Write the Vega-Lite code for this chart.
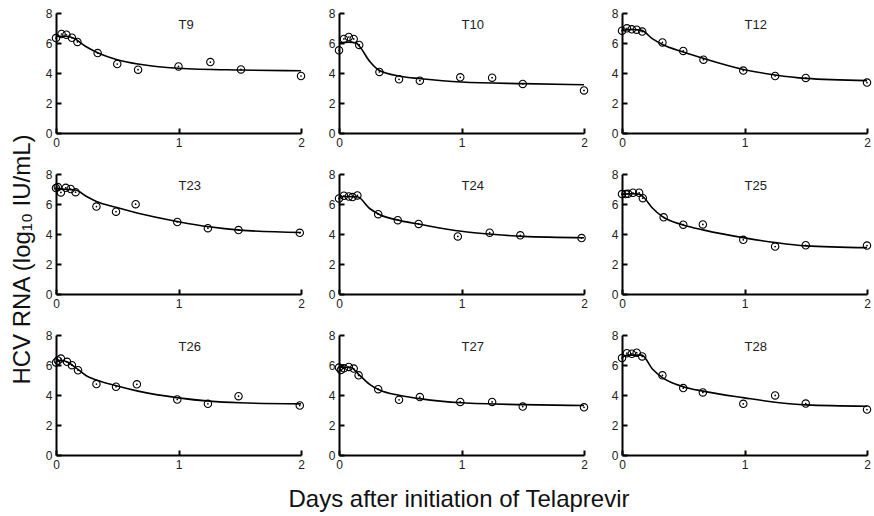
{
  "$schema": "https://vega.github.io/schema/vega-lite/v6.json",
  "background": "white",
  "padding": {"left": 11, "top": 7, "right": 0, "bottom": 5},
  "config": {
    "view": {"stroke": null},
    "font": "Liberation Sans",
    "facet": {"spacing": {"column": 21, "row": 20}},
    "axis": {
      "grid": false,
      "domainColor": "black",
      "domainWidth": 2,
      "ticks": true,
      "tickColor": "black",
      "tickWidth": 2,
      "tickSize": -5,
      "labelPadding": 9,
      "labelFontSize": 12,
      "labelColor": "#222",
      "labelFont": "Liberation Sans",
      "labelOverlap": false,
      "labelFlush": false,
      "title": null
    }
  },
  "title": {
    "text": "HCV RNA (log₁₀ IU/mL)",
    "orient": "left",
    "anchor": "middle",
    "fontSize": 24,
    "fontWeight": "normal",
    "font": "Liberation Sans",
    "color": "#111",
    "offset": 10
  },
  "data": {
    "values": [
      {"id": "T9", "kind": "obs", "t": 0.0, "v": 6.33},
      {"id": "T9", "kind": "obs", "t": 0.045, "v": 6.6},
      {"id": "T9", "kind": "obs", "t": 0.085, "v": 6.55},
      {"id": "T9", "kind": "obs", "t": 0.13, "v": 6.35},
      {"id": "T9", "kind": "obs", "t": 0.175, "v": 6.07},
      {"id": "T9", "kind": "obs", "t": 0.34, "v": 5.33},
      {"id": "T9", "kind": "obs", "t": 0.5, "v": 4.6},
      {"id": "T9", "kind": "obs", "t": 0.67, "v": 4.22},
      {"id": "T9", "kind": "obs", "t": 1.0, "v": 4.44},
      {"id": "T9", "kind": "obs", "t": 1.26, "v": 4.73},
      {"id": "T9", "kind": "obs", "t": 1.51, "v": 4.24},
      {"id": "T9", "kind": "obs", "t": 2.0, "v": 3.8},
      {"id": "T9", "kind": "fit", "t": 0.0, "v": 6.44},
      {"id": "T9", "kind": "fit", "t": 0.08, "v": 6.45},
      {"id": "T9", "kind": "fit", "t": 0.15, "v": 6.3},
      {"id": "T9", "kind": "fit", "t": 0.24, "v": 5.78},
      {"id": "T9", "kind": "fit", "t": 0.34, "v": 5.35},
      {"id": "T9", "kind": "fit", "t": 0.5, "v": 4.89},
      {"id": "T9", "kind": "fit", "t": 0.67, "v": 4.6},
      {"id": "T9", "kind": "fit", "t": 1.0, "v": 4.32},
      {"id": "T9", "kind": "fit", "t": 1.5, "v": 4.2},
      {"id": "T9", "kind": "fit", "t": 2.0, "v": 4.15},

      {"id": "T10", "kind": "obs", "t": 0.0, "v": 5.51},
      {"id": "T10", "kind": "obs", "t": 0.04, "v": 6.27},
      {"id": "T10", "kind": "obs", "t": 0.08, "v": 6.4},
      {"id": "T10", "kind": "obs", "t": 0.12, "v": 6.27},
      {"id": "T10", "kind": "obs", "t": 0.165, "v": 5.87},
      {"id": "T10", "kind": "obs", "t": 0.33, "v": 4.07},
      {"id": "T10", "kind": "obs", "t": 0.49, "v": 3.58},
      {"id": "T10", "kind": "obs", "t": 0.66, "v": 3.49},
      {"id": "T10", "kind": "obs", "t": 0.99, "v": 3.71},
      {"id": "T10", "kind": "obs", "t": 1.25, "v": 3.69},
      {"id": "T10", "kind": "obs", "t": 1.5, "v": 3.27},
      {"id": "T10", "kind": "obs", "t": 2.0, "v": 2.84},
      {"id": "T10", "kind": "fit", "t": 0.0, "v": 6.0},
      {"id": "T10", "kind": "fit", "t": 0.08, "v": 6.06},
      {"id": "T10", "kind": "fit", "t": 0.14, "v": 6.0},
      {"id": "T10", "kind": "fit", "t": 0.17, "v": 5.75},
      {"id": "T10", "kind": "fit", "t": 0.25, "v": 4.78},
      {"id": "T10", "kind": "fit", "t": 0.32, "v": 4.22},
      {"id": "T10", "kind": "fit", "t": 0.5, "v": 3.78},
      {"id": "T10", "kind": "fit", "t": 0.67, "v": 3.62},
      {"id": "T10", "kind": "fit", "t": 1.0, "v": 3.4},
      {"id": "T10", "kind": "fit", "t": 1.5, "v": 3.29},
      {"id": "T10", "kind": "fit", "t": 2.0, "v": 3.22},

      {"id": "T12", "kind": "obs", "t": 0.0, "v": 6.82},
      {"id": "T12", "kind": "obs", "t": 0.04, "v": 6.98},
      {"id": "T12", "kind": "obs", "t": 0.08, "v": 6.91},
      {"id": "T12", "kind": "obs", "t": 0.12, "v": 6.89},
      {"id": "T12", "kind": "obs", "t": 0.165, "v": 6.76},
      {"id": "T12", "kind": "obs", "t": 0.33, "v": 6.04},
      {"id": "T12", "kind": "obs", "t": 0.5, "v": 5.47},
      {"id": "T12", "kind": "obs", "t": 0.665, "v": 4.89},
      {"id": "T12", "kind": "obs", "t": 0.99, "v": 4.16},
      {"id": "T12", "kind": "obs", "t": 1.25, "v": 3.8},
      {"id": "T12", "kind": "obs", "t": 1.5, "v": 3.67},
      {"id": "T12", "kind": "obs", "t": 2.0, "v": 3.36},
      {"id": "T12", "kind": "fit", "t": 0.0, "v": 6.84},
      {"id": "T12", "kind": "fit", "t": 0.08, "v": 6.9},
      {"id": "T12", "kind": "fit", "t": 0.16, "v": 6.84},
      {"id": "T12", "kind": "fit", "t": 0.25, "v": 6.27},
      {"id": "T12", "kind": "fit", "t": 0.33, "v": 5.9},
      {"id": "T12", "kind": "fit", "t": 0.5, "v": 5.4},
      {"id": "T12", "kind": "fit", "t": 0.67, "v": 4.96},
      {"id": "T12", "kind": "fit", "t": 1.0, "v": 4.22},
      {"id": "T12", "kind": "fit", "t": 1.25, "v": 3.87},
      {"id": "T12", "kind": "fit", "t": 1.5, "v": 3.64},
      {"id": "T12", "kind": "fit", "t": 2.0, "v": 3.49},

      {"id": "T23", "kind": "obs", "t": 0.0, "v": 7.06},
      {"id": "T23", "kind": "obs", "t": 0.015, "v": 7.13},
      {"id": "T23", "kind": "obs", "t": 0.04, "v": 6.77},
      {"id": "T23", "kind": "obs", "t": 0.08, "v": 7.08},
      {"id": "T23", "kind": "obs", "t": 0.12, "v": 7.0},
      {"id": "T23", "kind": "obs", "t": 0.16, "v": 6.79},
      {"id": "T23", "kind": "obs", "t": 0.33, "v": 5.83},
      {"id": "T23", "kind": "obs", "t": 0.49, "v": 5.49},
      {"id": "T23", "kind": "obs", "t": 0.65, "v": 5.99},
      {"id": "T23", "kind": "obs", "t": 0.99, "v": 4.8},
      {"id": "T23", "kind": "obs", "t": 1.24, "v": 4.39},
      {"id": "T23", "kind": "obs", "t": 1.49, "v": 4.26},
      {"id": "T23", "kind": "obs", "t": 1.99, "v": 4.08},
      {"id": "T23", "kind": "fit", "t": 0.0, "v": 7.02},
      {"id": "T23", "kind": "fit", "t": 0.08, "v": 6.98},
      {"id": "T23", "kind": "fit", "t": 0.16, "v": 6.93},
      {"id": "T23", "kind": "fit", "t": 0.25, "v": 6.5},
      {"id": "T23", "kind": "fit", "t": 0.33, "v": 6.17},
      {"id": "T23", "kind": "fit", "t": 0.5, "v": 5.76},
      {"id": "T23", "kind": "fit", "t": 0.67, "v": 5.38},
      {"id": "T23", "kind": "fit", "t": 1.0, "v": 4.82},
      {"id": "T23", "kind": "fit", "t": 1.25, "v": 4.48},
      {"id": "T23", "kind": "fit", "t": 1.5, "v": 4.26},
      {"id": "T23", "kind": "fit", "t": 2.0, "v": 4.1},

      {"id": "T24", "kind": "obs", "t": 0.0, "v": 6.37},
      {"id": "T24", "kind": "obs", "t": 0.04, "v": 6.55},
      {"id": "T24", "kind": "obs", "t": 0.08, "v": 6.5},
      {"id": "T24", "kind": "obs", "t": 0.11, "v": 6.46},
      {"id": "T24", "kind": "obs", "t": 0.15, "v": 6.57},
      {"id": "T24", "kind": "obs", "t": 0.32, "v": 5.32},
      {"id": "T24", "kind": "obs", "t": 0.48, "v": 4.92},
      {"id": "T24", "kind": "obs", "t": 0.65, "v": 4.67},
      {"id": "T24", "kind": "obs", "t": 0.97, "v": 3.84},
      {"id": "T24", "kind": "obs", "t": 1.23, "v": 4.09},
      {"id": "T24", "kind": "obs", "t": 1.48, "v": 3.91},
      {"id": "T24", "kind": "obs", "t": 1.98, "v": 3.73},
      {"id": "T24", "kind": "fit", "t": 0.0, "v": 6.41},
      {"id": "T24", "kind": "fit", "t": 0.04, "v": 6.5},
      {"id": "T24", "kind": "fit", "t": 0.15, "v": 6.48},
      {"id": "T24", "kind": "fit", "t": 0.25, "v": 5.7},
      {"id": "T24", "kind": "fit", "t": 0.33, "v": 5.3},
      {"id": "T24", "kind": "fit", "t": 0.5, "v": 4.89},
      {"id": "T24", "kind": "fit", "t": 0.67, "v": 4.63},
      {"id": "T24", "kind": "fit", "t": 1.0, "v": 4.18},
      {"id": "T24", "kind": "fit", "t": 1.25, "v": 3.98},
      {"id": "T24", "kind": "fit", "t": 1.5, "v": 3.84},
      {"id": "T24", "kind": "fit", "t": 2.0, "v": 3.75},

      {"id": "T25", "kind": "obs", "t": 0.0, "v": 6.66},
      {"id": "T25", "kind": "obs", "t": 0.03, "v": 6.66},
      {"id": "T25", "kind": "obs", "t": 0.05, "v": 6.68},
      {"id": "T25", "kind": "obs", "t": 0.09, "v": 6.75},
      {"id": "T25", "kind": "obs", "t": 0.14, "v": 6.75},
      {"id": "T25", "kind": "obs", "t": 0.17, "v": 6.39},
      {"id": "T25", "kind": "obs", "t": 0.34, "v": 5.11},
      {"id": "T25", "kind": "obs", "t": 0.5, "v": 4.62},
      {"id": "T25", "kind": "obs", "t": 0.66, "v": 4.64},
      {"id": "T25", "kind": "obs", "t": 0.99, "v": 3.61},
      {"id": "T25", "kind": "obs", "t": 1.25, "v": 3.16},
      {"id": "T25", "kind": "obs", "t": 1.5, "v": 3.25},
      {"id": "T25", "kind": "obs", "t": 2.0, "v": 3.23},
      {"id": "T25", "kind": "fit", "t": 0.0, "v": 6.66},
      {"id": "T25", "kind": "fit", "t": 0.08, "v": 6.68},
      {"id": "T25", "kind": "fit", "t": 0.14, "v": 6.66},
      {"id": "T25", "kind": "fit", "t": 0.17, "v": 6.5},
      {"id": "T25", "kind": "fit", "t": 0.25, "v": 5.72},
      {"id": "T25", "kind": "fit", "t": 0.33, "v": 5.16},
      {"id": "T25", "kind": "fit", "t": 0.5, "v": 4.6},
      {"id": "T25", "kind": "fit", "t": 0.67, "v": 4.26},
      {"id": "T25", "kind": "fit", "t": 1.0, "v": 3.74},
      {"id": "T25", "kind": "fit", "t": 1.25, "v": 3.43},
      {"id": "T25", "kind": "fit", "t": 1.5, "v": 3.21},
      {"id": "T25", "kind": "fit", "t": 2.0, "v": 3.09},

      {"id": "T26", "kind": "obs", "t": 0.0, "v": 6.17},
      {"id": "T26", "kind": "obs", "t": 0.015, "v": 6.3},
      {"id": "T26", "kind": "obs", "t": 0.04, "v": 6.43},
      {"id": "T26", "kind": "obs", "t": 0.09, "v": 6.21},
      {"id": "T26", "kind": "obs", "t": 0.13, "v": 5.99},
      {"id": "T26", "kind": "obs", "t": 0.18, "v": 5.65},
      {"id": "T26", "kind": "obs", "t": 0.33, "v": 4.73},
      {"id": "T26", "kind": "obs", "t": 0.49, "v": 4.55},
      {"id": "T26", "kind": "obs", "t": 0.66, "v": 4.71},
      {"id": "T26", "kind": "obs", "t": 0.99, "v": 3.7},
      {"id": "T26", "kind": "obs", "t": 1.24, "v": 3.41},
      {"id": "T26", "kind": "obs", "t": 1.49, "v": 3.92},
      {"id": "T26", "kind": "obs", "t": 1.99, "v": 3.3},
      {"id": "T26", "kind": "fit", "t": 0.0, "v": 6.17},
      {"id": "T26", "kind": "fit", "t": 0.04, "v": 6.32},
      {"id": "T26", "kind": "fit", "t": 0.1, "v": 6.17},
      {"id": "T26", "kind": "fit", "t": 0.16, "v": 5.83},
      {"id": "T26", "kind": "fit", "t": 0.25, "v": 5.27},
      {"id": "T26", "kind": "fit", "t": 0.33, "v": 5.0},
      {"id": "T26", "kind": "fit", "t": 0.5, "v": 4.6},
      {"id": "T26", "kind": "fit", "t": 0.67, "v": 4.26},
      {"id": "T26", "kind": "fit", "t": 1.0, "v": 3.81},
      {"id": "T26", "kind": "fit", "t": 1.25, "v": 3.59},
      {"id": "T26", "kind": "fit", "t": 1.5, "v": 3.48},
      {"id": "T26", "kind": "fit", "t": 2.0, "v": 3.41},

      {"id": "T27", "kind": "obs", "t": 0.0, "v": 5.83},
      {"id": "T27", "kind": "obs", "t": 0.015, "v": 5.67},
      {"id": "T27", "kind": "obs", "t": 0.04, "v": 5.78},
      {"id": "T27", "kind": "obs", "t": 0.08, "v": 5.87},
      {"id": "T27", "kind": "obs", "t": 0.12, "v": 5.76},
      {"id": "T27", "kind": "obs", "t": 0.16, "v": 5.31},
      {"id": "T27", "kind": "obs", "t": 0.32, "v": 4.39},
      {"id": "T27", "kind": "obs", "t": 0.49, "v": 3.68},
      {"id": "T27", "kind": "obs", "t": 0.66, "v": 3.86},
      {"id": "T27", "kind": "obs", "t": 0.99, "v": 3.54},
      {"id": "T27", "kind": "obs", "t": 1.25, "v": 3.54},
      {"id": "T27", "kind": "obs", "t": 1.5, "v": 3.23},
      {"id": "T27", "kind": "obs", "t": 2.0, "v": 3.18},
      {"id": "T27", "kind": "fit", "t": 0.0, "v": 5.83},
      {"id": "T27", "kind": "fit", "t": 0.05, "v": 5.85},
      {"id": "T27", "kind": "fit", "t": 0.1, "v": 5.82},
      {"id": "T27", "kind": "fit", "t": 0.16, "v": 5.38},
      {"id": "T27", "kind": "fit", "t": 0.25, "v": 4.71},
      {"id": "T27", "kind": "fit", "t": 0.33, "v": 4.33},
      {"id": "T27", "kind": "fit", "t": 0.5, "v": 3.97},
      {"id": "T27", "kind": "fit", "t": 0.67, "v": 3.74},
      {"id": "T27", "kind": "fit", "t": 1.0, "v": 3.48},
      {"id": "T27", "kind": "fit", "t": 1.5, "v": 3.36},
      {"id": "T27", "kind": "fit", "t": 2.0, "v": 3.3},

      {"id": "T28", "kind": "obs", "t": 0.0, "v": 6.46},
      {"id": "T28", "kind": "obs", "t": 0.04, "v": 6.79},
      {"id": "T28", "kind": "obs", "t": 0.08, "v": 6.75},
      {"id": "T28", "kind": "obs", "t": 0.12, "v": 6.82},
      {"id": "T28", "kind": "obs", "t": 0.165, "v": 6.57},
      {"id": "T28", "kind": "obs", "t": 0.33, "v": 5.31},
      {"id": "T28", "kind": "obs", "t": 0.5, "v": 4.46},
      {"id": "T28", "kind": "obs", "t": 0.66, "v": 4.17},
      {"id": "T28", "kind": "obs", "t": 0.99, "v": 3.41},
      {"id": "T28", "kind": "obs", "t": 1.25, "v": 3.97},
      {"id": "T28", "kind": "obs", "t": 1.5, "v": 3.43},
      {"id": "T28", "kind": "obs", "t": 2.0, "v": 3.03},
      {"id": "T28", "kind": "fit", "t": 0.0, "v": 6.5},
      {"id": "T28", "kind": "fit", "t": 0.04, "v": 6.66},
      {"id": "T28", "kind": "fit", "t": 0.16, "v": 6.66},
      {"id": "T28", "kind": "fit", "t": 0.25, "v": 5.72},
      {"id": "T28", "kind": "fit", "t": 0.33, "v": 5.16},
      {"id": "T28", "kind": "fit", "t": 0.5, "v": 4.55},
      {"id": "T28", "kind": "fit", "t": 0.67, "v": 4.24},
      {"id": "T28", "kind": "fit", "t": 1.0, "v": 3.81},
      {"id": "T28", "kind": "fit", "t": 1.25, "v": 3.52},
      {"id": "T28", "kind": "fit", "t": 1.5, "v": 3.34},
      {"id": "T28", "kind": "fit", "t": 2.0, "v": 3.25}
    ]
  },
  "facet": {
    "field": "id",
    "type": "nominal",
    "sort": ["T9", "T10", "T12", "T23", "T24", "T25", "T26", "T27", "T28"],
    "title": "Days after initiation of Telaprevir",
    "header": {
      "titleOrient": "bottom",
      "titleFontSize": 24,
      "titleFont": "Liberation Sans",
      "titleFontWeight": "normal",
      "titleColor": "#111",
      "titlePadding": 18,
      "labelOrient": "top",
      "labelPadding": -25,
      "labelAlign": "left",
      "labelFontSize": 13,
      "labelFont": "Liberation Sans",
      "labelColor": "#222"
    }
  },
  "columns": 3,
  "resolve": {"axis": {"x": "independent", "y": "independent"}},
  "spec": {
    "width": 245,
    "height": 120,
    "encoding": {
      "x": {
        "field": "t",
        "type": "quantitative",
        "scale": {"domain": [0, 2], "nice": false},
        "axis": {"values": [0, 1, 2], "labelExpr": "format(datum.value, '.0f')"}
      },
      "y": {
        "field": "v",
        "type": "quantitative",
        "scale": {"domain": [0, 8], "nice": false},
        "axis": {"values": [0, 2, 4, 6, 8], "format": "d"}
      }
    },
    "layer": [
      {
        "transform": [{"filter": "datum.kind === 'fit'"}],
        "mark": {"type": "line", "color": "black", "strokeWidth": 1.6, "interpolate": "monotone"}
      },
      {
        "transform": [{"filter": "datum.kind === 'obs'"}],
        "mark": {"type": "point", "shape": "circle", "filled": false, "stroke": "black", "strokeWidth": 1.1, "size": 55, "opacity": 1}
      },
      {
        "transform": [{"filter": "datum.kind === 'obs'"}],
        "mark": {"type": "point", "shape": "circle", "filled": true, "fill": "black", "size": 3, "opacity": 1}
      }
    ]
  }
}
